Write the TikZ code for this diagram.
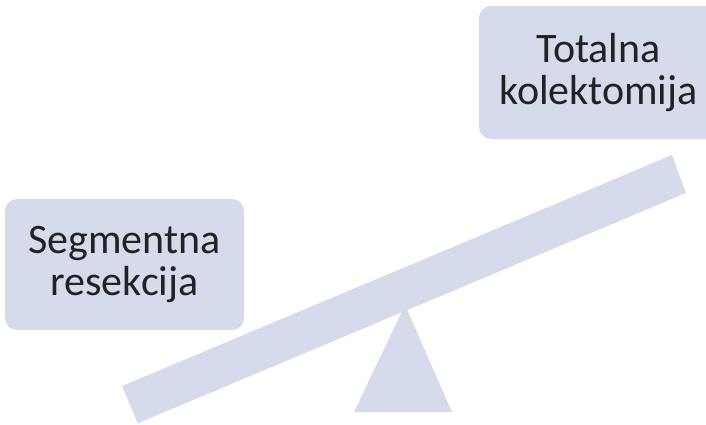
\documentclass[tikz,border=0pt]{standalone}
\usepackage{fontspec}
\setmainfont{Carlito}
\definecolor{lav}{HTML}{D6DBEC}
\definecolor{txt}{HTML}{222222}
\begin{document}
\begin{tikzpicture}[x=1pt,y=-1pt,
  box/.style={fill=lav, rounded corners=12pt, inner sep=0pt, align=center,
    font=\fontsize{42}{42}\selectfont, text=txt},
  part/.style={fill=lav}]
\useasboundingbox (0,0) rectangle (706,424);
\begin{scope}
\clip (0,0) rectangle (706,424);
\node[box, minimum width=239pt, minimum height=131pt] (seg) at (124.5,264.5) {Segmentna\\resekcija};
\node[box, minimum width=239pt, minimum height=133pt] (tot) at (598.5,72.5) {Totalna\\kolektomija};
\fill[part] (354,412) -- (405,305) -- (452,412) -- cycle;
\fill[part] (122,386) -- (672,155) -- (686,193) -- (137.7,423.3) -- cycle;
\end{scope}
\end{tikzpicture}
\end{document}
